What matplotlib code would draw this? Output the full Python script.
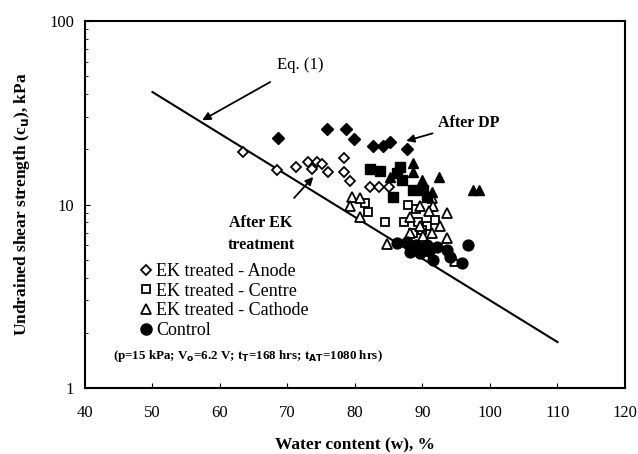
import numpy as np
import matplotlib.pyplot as plt
from matplotlib.lines import Line2D

plt.rcParams['font.family'] = ['Liberation Serif', 'DejaVu Serif']

# after EK treatment (open symbols)
anode_w = [63.4, 68.5, 71.3, 73.1, 74.3, 73.6, 75.1, 76.0, 78.3, 78.3, 79.3, 82.2, 83.5, 85.1]
anode_cu = [19.3, 15.4, 16.0, 17.0, 17.0, 15.7, 16.6, 15.0, 17.9, 15.1, 13.5, 12.5, 12.5, 12.5]
centre_w = [81.5, 82.0, 84.4, 87.2, 87.9, 89.4, 90.6, 91.9, 88.6, 90.0, 89.0]
centre_cu = [10.2, 9.1, 8.05, 8.05, 9.9, 8.05, 7.6, 8.2, 7.0, 7.3, 9.4]
cathode_w = [79.5, 80.7, 79.3, 80.7, 84.8, 88.1, 89.6, 91.4, 91.6, 93.6, 90.9, 92.6,
             93.6, 94.8, 88.1, 89.6, 91.4, 90.1]
cathode_cu = [11.0, 10.9, 9.8, 8.6, 6.1, 8.5, 9.8, 10.8, 9.8, 8.95, 9.2, 7.6,
              6.55, 4.9, 7.0, 7.6, 7.0, 6.7]
control_w = [86.2, 87.7, 89.1, 90.6, 92.1, 93.6, 89.6, 91.6, 88.1, 96.8, 95.8, 94.1, 90.0, 91.0]
control_cu = [6.15, 6.25, 6.0, 6.0, 5.9, 5.65, 5.42, 4.99, 5.5, 6.0, 4.82, 5.2, 5.8, 5.6]

# after DP (filled symbols)
dp_anode_w = [68.6, 75.8, 78.7, 79.9, 82.7, 84.2, 85.2, 87.7]
dp_anode_cu = [23.0, 25.8, 25.8, 22.8, 20.9, 20.9, 22.0, 20.0]
dp_centre_w = [82.2, 83.7, 86.7, 86.9, 85.7, 88.6, 90.1, 90.6, 86.2]
dp_centre_cu = [15.7, 15.3, 16.1, 13.6, 11.0, 12.0, 12.0, 11.0, 14.9]
dp_cathode_w = [88.6, 88.6, 89.9, 92.5, 97.5, 98.3, 85.2, 91.4]
dp_cathode_cu = [16.8, 15.1, 13.6, 14.1, 12.0, 12.0, 14.2, 11.7]

# Eq. (1) line end points
eq_w = [50, 110]
eq_cu = [41.0, 1.78]

fig = plt.figure(figsize=(6.38, 4.54), dpi=100)
ax = fig.add_axes([0.1332, 0.1454, 0.8464, 0.8083])

ax.plot(eq_w, eq_cu, 'k-', lw=1.5, zorder=1)

ax.plot(anode_w, anode_cu, 'D', ms=5, mfc='white', mec='k', mew=1.3, ls='none')
ax.plot(centre_w, centre_cu, 's', ms=6, mfc='white', mec='k', mew=1.3, ls='none')
ax.plot(cathode_w, cathode_cu, '^', ms=6.5, mfc='white', mec='k', mew=1.3, ls='none')
ax.plot(control_w, control_cu, 'o', ms=7.8, mfc='k', mec='k', ls='none')
ax.plot(dp_anode_w, dp_anode_cu, 'D', ms=6, color='k', ls='none')
ax.plot(dp_centre_w, dp_centre_cu, 's', ms=7, color='k', ls='none')
ax.plot(dp_cathode_w, dp_cathode_cu, '^', ms=7.5, color='k', ls='none')

ax.set_yscale('log')
ax.set_xlim(40, 120)
ax.set_ylim(1, 100)
ax.set_xticks(range(40, 121, 10))
ax.set_yticks([1, 10, 100])
ax.set_yticklabels(['1', '10', '100'])
ax.tick_params(which='both', direction='in', labelsize=12, pad=8)
ax.tick_params(axis='x', pad=12)
for s in ax.spines.values():
    s.set_linewidth(1.5)

ax.set_xlabel('Water content (w), %', fontsize=12.5, fontweight='bold', labelpad=12)
ax.set_ylabel('Undrained shear strength (c$_\\mathbf{u}$), kPa', fontsize=12.5,
              fontweight='bold', labelpad=12)

ax.annotate('Eq. (1)', xy=(57.0, 28.3), xytext=(71.9, 57.5), fontsize=12,
            ha='center', va='center',
            arrowprops=dict(arrowstyle='-|>', color='k', lw=1.3, shrinkA=9))
ax.annotate('After EK\ntreatment', xy=(74.1, 14.5), xytext=(66.1, 6.9), fontsize=11.5,
            fontweight='bold', ha='center', va='center', linespacing=1.5,
            arrowprops=dict(arrowstyle='-|>', color='k', lw=1.3, shrinkA=14))
ax.annotate('After DP', xy=(87.2, 22.0), xytext=(92.3, 27.8), fontsize=11.5,
            fontweight='bold', ha='left', va='center',
            arrowprops=dict(arrowstyle='-|>', color='k', lw=1.3, shrinkA=2))

handles = [
    Line2D([], [], marker='D', ms=5, mfc='white', mec='k', mew=1.3, ls='none'),
    Line2D([], [], marker='s', ms=6, mfc='white', mec='k', mew=1.3, ls='none'),
    Line2D([], [], marker='^', ms=6.5, mfc='white', mec='k', mew=1.3, ls='none'),
    Line2D([], [], marker='o', ms=8, mfc='k', mec='k', ls='none'),
]
labels = ['EK treated - Anode', 'EK treated - Centre', 'EK treated - Cathode', 'Control']
ax.legend(handles, labels, loc='upper left', bbox_to_anchor=(0.08, 0.365), frameon=False,
          fontsize=13, handletextpad=0.05, handlelength=1.0, labelspacing=0.15,
          borderpad=0)

ax.text(0.052, 0.087,
        '(p=15 kPa; V$_\\mathbf{o}$=6.2 V; t$_\\mathbf{T}$=168 hrs; t$_\\mathbf{AT}$=1080 hrs)',
        transform=ax.transAxes, fontsize=9.4, fontweight='bold', va='center')

fig.savefig('out.png', dpi=100)
